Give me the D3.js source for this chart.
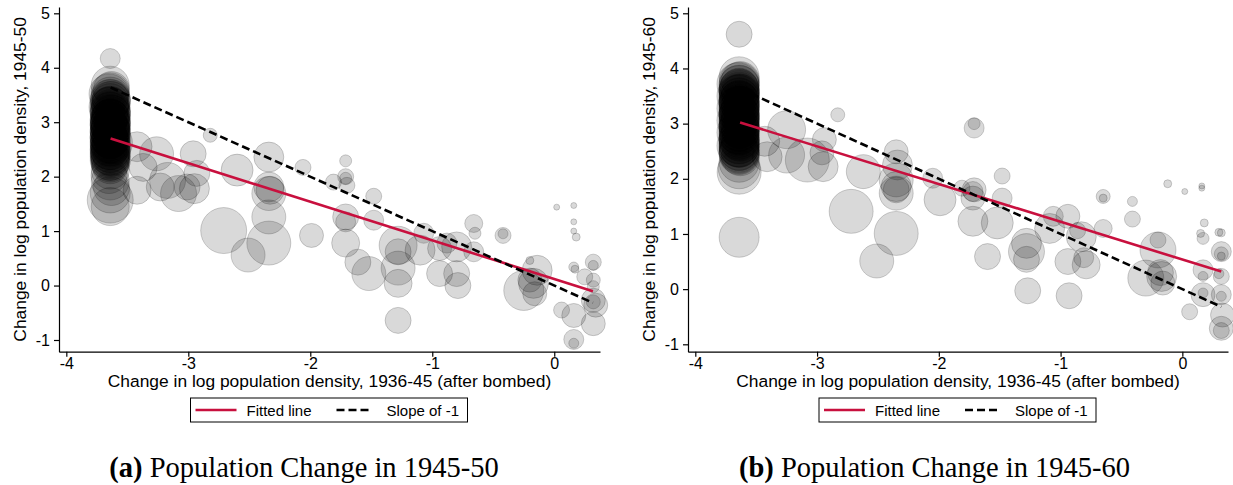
<!DOCTYPE html>
<html><head><meta charset="utf-8">
<script src="https://cdn.jsdelivr.net/npm/d3@7"></script>
<style>body{margin:0;background:#fff}svg{display:block}</style>
</head><body><svg id="c" width="1233" height="485"></svg>
<script>
// ---------------- data ----------------
const xTicks = [-4, -3, -2, -1, 0];
const yTicks = [-1, 0, 1, 2, 3, 4, 5];
const xTitle = "Change in log population density, 1936-45 (after bombed)";
const yTitles = ["Change in log population density, 1945-50", "Change in log population density, 1945-60"];
const legendLabels = ["Fitted line", "Slope of -1"];
const captionTags = ["(a)", "(b)"];
const captionTexts = [" Population Change in 1945-50", " Population Change in 1945-60"];

// [x, y, weight]
const panelA_points = [
  [-3.64,4.17,100],
  [-3.64,3.68,361],[-3.63,3.60,324],[-3.65,3.52,400],[-3.64,3.45,324],[-3.63,3.40,361],[-3.64,3.33,324],
  [-3.65,3.28,400],[-3.64,3.22,324],[-3.63,3.15,361],[-3.64,3.10,324],[-3.64,3.05,400],[-3.65,2.98,324],
  [-3.64,2.92,361],[-3.63,2.88,324],[-3.64,2.82,400],[-3.64,2.76,324],[-3.65,2.70,361],[-3.64,2.66,324],
  [-3.63,2.62,441],[-3.64,2.58,324],[-3.64,2.52,361],[-3.65,2.46,324],[-3.64,2.40,400],[-3.63,2.34,324],
  [-3.64,2.28,361],[-3.64,2.20,324],[-3.64,2.12,361],[-3.65,2.02,324],[-3.64,1.92,361],[-3.63,1.80,324],
  [-3.64,1.70,400],[-3.64,1.57,529],[-3.64,1.45,361],
  [-3.64,3.56,361],[-3.64,3.48,361],[-3.64,3.42,400],[-3.64,3.36,361],[-3.64,3.30,361],[-3.64,3.25,361],
  [-3.64,3.18,400],[-3.64,3.12,361],[-3.64,3.08,361],[-3.64,3.02,361],[-3.64,2.95,400],[-3.64,2.90,361],
  [-3.64,2.85,361],[-3.64,2.79,361],[-3.64,2.72,400],[-3.64,2.68,361],[-3.64,2.64,361],[-3.64,2.60,400],
  [-3.64,2.55,361],[-3.64,2.49,400],[-3.64,2.43,361],[-3.64,2.37,361],[-3.64,2.31,361],[-3.64,2.25,361],
  [-3.64,3.38,400],[-3.64,3.27,400],[-3.64,3.20,400],[-3.64,3.14,400],[-3.64,3.04,400],[-3.64,2.97,400],
  [-3.64,2.87,400],[-3.64,2.80,400],[-3.64,2.74,400],[-3.64,2.63,400],[-3.64,2.56,400],[-3.64,2.50,400],
  [-3.64,2.44,400],[-3.64,2.36,400],[-3.64,2.30,400],[-3.64,2.94,400],[-3.64,3.00,400],[-3.64,2.84,400],
  [-3.42,2.55,225],[-3.37,2.17,196],[-3.26,2.42,289],[-3.17,1.93,324],[-2.96,2.42,169],[-2.93,2.06,169],
  [-3.01,1.81,169],[-2.82,2.76,49],[-2.60,2.12,256],[-2.34,2.36,225],[-2.34,1.81,225],[-2.06,2.17,64],
  [-3.42,1.75,196],[-3.23,1.81,196],[-3.08,1.69,324],[-2.95,1.78,225],[-2.71,1.01,529],[-2.51,0.56,289],
  [-2.34,0.78,484],[-2.34,1.26,289],[-2.34,1.69,289],[-2.33,1.75,196],[-1.99,0.92,144],
  [-1.48,1.64,64],[-1.70,1.84,64],[-1.71,1.26,169],[-1.71,1.17,100],[-1.48,1.20,100],[-1.71,0.78,196],
  [-1.61,0.43,169],[-1.52,0.22,289],[-1.28,0.74,361],[-1.28,0.62,169],[-1.28,0.32,289],[-1.28,0.04,196],
  [-1.28,-0.64,169],[-1.07,0.96,100],[-1.10,0.65,225],[-0.94,0.68,144],[-0.88,0.78,100],[-0.80,0.71,225],
  [-0.94,0.22,169],[-0.80,0.22,169],[-0.79,0.00,169],[-0.66,1.14,81],[-0.65,0.96,36],[-0.66,0.62,100],
  [-0.42,0.92,64],[-0.42,0.95,25],[-0.20,0.46,16],[-0.14,0.28,225],[-0.25,-0.09,400],[-0.17,0.04,225],
  [-0.16,-0.15,144],[-0.20,0.10,144],[0.02,1.44,9],[0.16,1.47,9],[0.16,1.17,9],[0.16,1.00,9],
  [0.18,0.89,16],[0.16,0.34,25],[0.17,0.30,16],[0.32,0.43,64],[0.32,0.37,25],[0.25,0.16,64],
  [0.32,0.10,49],[0.32,-0.02,36],[0.32,-0.27,144],[0.32,-0.30,49],[0.34,-0.36,144],[0.32,-0.70,144],
  [0.06,-0.45,64],[0.16,-0.55,144],[0.16,-0.99,100],[0.16,-1.06,25],
  [-1.71,2.29,36],[-1.71,2.00,64],[-1.71,1.97,36],[-1.81,1.90,64]
];

const panelB_points = [
  [-3.64,4.62,169],
  [-3.64,3.85,400],[-3.63,3.78,361],[-3.65,3.72,441],[-3.64,3.66,361],[-3.64,3.60,400],[-3.63,3.55,361],
  [-3.65,3.50,441],[-3.64,3.44,361],[-3.64,3.38,400],[-3.63,3.33,361],[-3.65,3.28,441],[-3.64,3.22,361],
  [-3.64,3.17,400],[-3.63,3.12,361],[-3.65,3.06,441],[-3.64,3.00,361],[-3.64,2.95,400],[-3.63,2.90,361],
  [-3.65,2.84,441],[-3.64,2.78,361],[-3.64,2.72,400],[-3.63,2.66,361],[-3.65,2.60,441],[-3.64,2.55,361],
  [-3.64,2.48,400],[-3.63,2.40,361],[-3.64,2.30,400],[-3.64,2.20,441],[-3.64,2.12,484],
  [-3.64,3.75,400],[-3.64,3.69,400],[-3.64,3.63,400],[-3.64,3.57,400],[-3.64,3.52,400],[-3.64,3.47,400],
  [-3.64,3.41,400],[-3.64,3.35,400],[-3.64,3.30,400],[-3.64,3.25,400],[-3.64,3.19,400],[-3.64,3.14,400],
  [-3.64,3.09,400],[-3.64,3.03,400],[-3.64,2.98,400],[-3.64,2.92,400],[-3.64,2.87,400],[-3.64,2.81,400],
  [-3.64,2.75,400],[-3.64,2.69,400],[-3.64,2.63,400],[-3.64,2.57,400],[-3.64,2.51,400],[-3.64,2.44,400],
  [-3.64,3.70,400],[-3.64,3.62,400],[-3.64,3.54,400],[-3.64,3.46,400],[-3.64,3.40,400],[-3.64,3.32,400],
  [-3.64,3.24,400],[-3.64,3.16,400],[-3.64,3.08,400],[-3.64,3.01,400],[-3.64,2.93,400],[-3.64,2.86,400],
  [-3.64,2.79,400],[-3.64,2.71,400],[-3.64,2.64,400],[-3.64,2.58,400],[-3.64,2.52,400],[-3.64,2.46,400],
  [-3.64,0.94,400],
  [-3.43,2.68,225],[-3.41,2.40,225],[-3.25,2.89,361],[-3.25,2.43,324],[-3.08,2.34,484],[-2.94,2.71,144],
  [-2.96,2.47,144],[-2.95,2.22,225],[-2.83,3.16,49],[-2.62,2.13,289],[-2.35,2.49,144],[-2.34,2.25,225],
  [-2.35,1.98,289],[-2.35,1.86,225],[-2.72,1.41,484],[-2.35,1.74,289],[-2.35,1.80,169],[-2.35,1.01,484],
  [-2.51,0.51,289],[-1.99,1.62,256],[-2.05,2.01,100],[-1.71,2.92,100],[-1.71,3.00,36],[-1.48,2.05,64],
  [-1.81,1.83,64],[-1.71,1.80,144],[-0.12,1.91,16],[0.02,1.77,9],[0.16,1.87,9],[0.16,1.83,9],
  [-1.72,1.65,144],[-1.72,1.77,100],[-1.72,1.23,225],[-1.52,1.20,256],[-1.48,1.65,100],[-1.60,0.59,169],
  [-1.28,0.68,324],[-1.28,0.83,225],[-1.28,0.54,169],[-1.27,-0.03,169],[-1.09,1.10,225],[-1.06,1.32,100],
  [-0.94,1.32,144],[-0.94,0.50,169],[-0.93,-0.12,169],[-0.83,0.95,225],[-0.86,1.06,64],[-0.79,0.44,196],
  [-0.81,0.57,100],[-0.65,1.10,81],[-0.65,1.68,49],[-0.65,1.65,16],[-0.41,1.59,25],[-0.41,1.27,64],
  [-0.20,0.71,324],[-0.20,0.89,64],[-0.30,0.20,324],[-0.17,0.23,225],[-0.16,0.11,144],[-0.18,0.30,169],
  [0.06,-0.41,64],[0.17,-0.10,144],[0.17,-0.07,25],[0.17,0.35,100],[0.17,0.23,25],[0.18,1.20,16],
  [0.15,1.01,16],[0.17,0.92,36],[0.30,1.03,16],[0.32,1.02,16],[0.32,0.68,100],[0.32,0.64,49],
  [0.32,0.60,16],[0.32,0.23,64],[0.30,0.28,25],[0.32,-0.10,100],[0.32,-0.13,25],[0.33,-0.47,144],
  [0.32,-0.71,144],[0.32,-0.75,64]
];

const fitA = {intercept: 0.121, slope: -0.709, from: -3.637, to: 0.317};
const fitB = {intercept: 0.537, slope: -0.684, from: -3.632, to: 0.320};
const refA = {intercept: 0, slope: -1, from: -3.637, to: 0.317};
const refB = {intercept: 0, slope: -1, from: -3.632, to: 0.320};

// ---------------- drawing ----------------
const svg = d3.select("#c");
const RED = "#c8103e";
const rScale = d3.scaleSqrt().domain([0, 529]).range([0, 23]);
const SANS = "Liberation Sans, Arial, sans-serif";

function panel(cfg) {
  const g = svg.append("g");
  const x = d3.scaleLinear().domain([-4.06, 0.375]).range([cfg.left, cfg.right]);
  const y = d3.scaleLinear().domain(cfg.yDomain).range([351.7, 7]);

  g.append("g").selectAll("circle").data(cfg.points).join("circle")
    .attr("cx", d => x(d[0])).attr("cy", d => y(d[1])).attr("r", d => rScale(d[2]))
    .attr("fill", "rgba(0,0,0,0.15)").attr("stroke", "rgba(0,0,0,0.2)").attr("stroke-width", 0.9);

  const line = d3.line().x(d => x(d)).y(d => y(cfg.fit.intercept + cfg.fit.slope * d));
  g.append("path").attr("d", line([cfg.fit.from, cfg.fit.to]))
    .attr("stroke", RED).attr("stroke-width", 2.6).attr("fill", "none");
  const line2 = d3.line().x(d => x(d)).y(d => y(cfg.ref.intercept + cfg.ref.slope * d));
  g.append("path").attr("d", line2([cfg.ref.from, cfg.ref.to]))
    .attr("stroke", "#000").attr("stroke-width", 2.6).attr("stroke-dasharray", "8,4").attr("fill", "none");

  const ax = g.append("g").attr("transform", `translate(0,351.7)`)
    .call(d3.axisBottom(x).tickValues(xTicks).tickSize(5).tickSizeOuter(0).tickPadding(1));
  const ay = g.append("g").attr("transform", `translate(${cfg.left},0)`)
    .call(d3.axisLeft(y).tickValues(yTicks).tickSize(5).tickSizeOuter(0).tickPadding(4));
  [ax, ay].forEach(a => {
    a.selectAll("text").attr("font-family", SANS).attr("font-size", 16).attr("fill", "#000")
      .text(d => d < 0 ? "-" + Math.abs(d) : String(d));
    a.selectAll("line,path").attr("stroke", "#000").attr("stroke-width", 1.2);
  });

  const cx = (cfg.left + cfg.right) / 2;
  g.append("text").attr("x", cx).attr("y", 386.5).attr("text-anchor", "middle")
    .attr("font-family", SANS).attr("font-size", 17.4).text(xTitle);
  g.append("text").attr("transform", `translate(${cfg.left - 33},179.4) rotate(-90)`).attr("text-anchor", "middle")
    .attr("font-family", SANS).attr("font-size", 17.4).text(cfg.yTitle);

  // legend
  const lx = cx - 139;
  const lg = g.append("g");
  lg.append("rect").attr("x", lx).attr("y", 398).attr("width", 277).attr("height", 24)
    .attr("fill", "#fff").attr("stroke", "#000").attr("stroke-width", 1);
  lg.append("line").attr("x1", lx + 5).attr("x2", lx + 46).attr("y1", 410).attr("y2", 410)
    .attr("stroke", RED).attr("stroke-width", 2.6);
  lg.append("text").attr("x", lx + 56).attr("y", 415.5).attr("font-family", SANS)
    .attr("font-size", 15).text(legendLabels[0]);
  lg.append("line").attr("x1", lx + 146).attr("x2", lx + 182).attr("y1", 410).attr("y2", 410)
    .attr("stroke", "#000").attr("stroke-width", 2.6).attr("stroke-dasharray", "8,4");
  lg.append("text").attr("x", lx + 196).attr("y", 415.5).attr("font-family", SANS)
    .attr("font-size", 15).text(legendLabels[1]);

  const cap = g.append("text").attr("x", cfg.capX).attr("y", 477).attr("text-anchor", "middle")
    .attr("font-family", "Liberation Serif, Times New Roman, serif").attr("font-size", 28.5);
  cap.append("tspan").attr("font-weight", "bold").text(cfg.tag);
  cap.append("tspan").text(cfg.caption);
}

panel({left: 59, right: 600, yDomain: [-1.215, 5.116], points: panelA_points, fit: fitA, ref: refA,
  yTitle: yTitles[0], tag: captionTags[0], caption: captionTexts[0], capX: 304});
panel({left: 688, right: 1228, yDomain: [-1.134, 5.114], points: panelB_points, fit: fitB, ref: refB,
  yTitle: yTitles[1], tag: captionTags[1], caption: captionTexts[1], capX: 934.5});
</script></body></html>
